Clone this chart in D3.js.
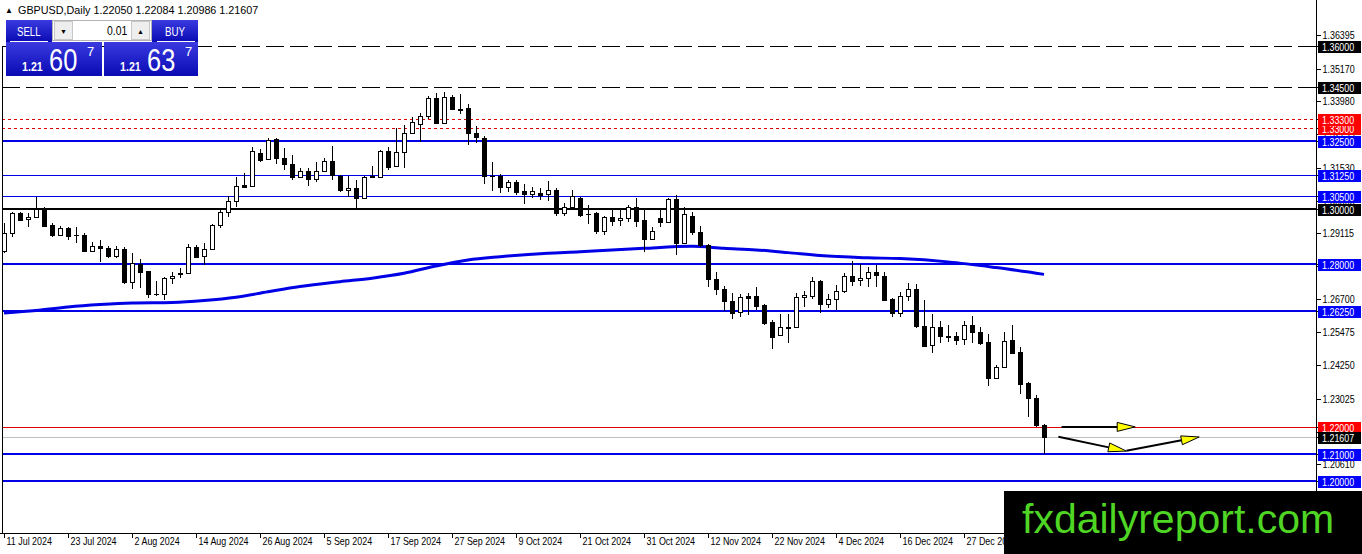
<!DOCTYPE html>
<html>
<head>
<meta charset="utf-8">
<script src="https://cdn.jsdelivr.net/npm/d3@7"></script>
<style>
body { margin: 0; background: #fff; overflow: hidden; }
text { font-family: "Liberation Sans", Arial, sans-serif; }
</style>
</head>
<body>
<script>
// GBPUSD daily candles, [open, high, low, close]
var candles = [
    [1.2843,1.2948,1.2839,1.2911],[1.2911,1.2991,1.2899,1.2985],[1.2985,1.2991,1.2956,1.2960],[1.2964,1.2985,1.2935,1.2971],
    [1.2970,1.3044,1.2968,1.3000],[1.3000,1.3009,1.2935,1.2939],[1.2942,1.2948,1.2899,1.2907],[1.2907,1.2939,1.2905,1.2932],
    [1.2932,1.2935,1.2887,1.2902],[1.2905,1.2935,1.2874,1.2904],[1.2905,1.2911,1.2845,1.2846],[1.2846,1.2878,1.2845,1.2866],
    [1.2864,1.2887,1.2804,1.2856],[1.2858,1.2864,1.2819,1.2829],[1.2829,1.2864,1.2819,1.2853],[1.2853,1.2862,1.2724,1.2731],
    [1.2733,1.2838,1.2706,1.2803],[1.2798,1.2817,1.2709,1.2770],[1.2772,1.2774,1.2672,1.2687],[1.2687,1.2736,1.2682,1.2688],
    [1.2687,1.2750,1.2665,1.2746],[1.2746,1.2767,1.2724,1.2754],[1.2762,1.2783,1.2746,1.2764],[1.2764,1.2871,1.2762,1.2860],
    [1.2860,1.2868,1.2819,1.2825],[1.2825,1.2875,1.2794,1.2852],[1.2852,1.2945,1.2850,1.2942],[1.2940,1.2997,1.2929,1.2988],
    [1.2988,1.3048,1.2972,1.3030],[1.3030,1.3117,1.3009,1.3085],[1.3088,1.3132,1.3077,1.3082],[1.3084,1.3227,1.3082,1.3214],
    [1.3205,1.3221,1.3174,1.3181],[1.3183,1.3263,1.3181,1.3254],[1.3257,1.3261,1.3165,1.3187],[1.3187,1.3224,1.3144,1.3165],
    [1.3165,1.3199,1.3107,1.3119],[1.3119,1.3150,1.3116,1.3141],[1.3141,1.3150,1.3086,1.3111],[1.3111,1.3174,1.3098,1.3141],
    [1.3141,1.3187,1.3137,1.3177],[1.3177,1.3233,1.3107,1.3125],[1.3123,1.3125,1.3064,1.3070],[1.3070,1.3122,1.3046,1.3078],
    [1.3076,1.3107,1.3003,1.3040],[1.3040,1.3122,1.3036,1.3119],[1.3119,1.3159,1.3115,1.3121],[1.3119,1.3218,1.3117,1.3214],
    [1.3214,1.3230,1.3144,1.3156],[1.3158,1.3299,1.3154,1.3209],[1.3209,1.3309,1.3150,1.3279],[1.3279,1.3340,1.3276,1.3319],
    [1.3312,1.3355,1.3246,1.3342],[1.3342,1.3416,1.3330,1.3408],[1.3408,1.3426,1.3313,1.3316],[1.3316,1.3432,1.3313,1.3411],
    [1.3411,1.3420,1.3365,1.3368],[1.3370,1.3423,1.3350,1.3366],[1.3371,1.3387,1.3236,1.3279],[1.3279,1.3306,1.3242,1.3263],
    [1.3263,1.3269,1.3092,1.3122],[1.3122,1.3174,1.3068,1.3121],[1.3122,1.3129,1.3058,1.3080],[1.3080,1.3107,1.3062,1.3098],
    [1.3099,1.3107,1.3052,1.3063],[1.3066,1.3092,1.3018,1.3054],[1.3054,1.3080,1.3040,1.3066],[1.3060,1.3077,1.3034,1.3052],
    [1.3054,1.3103,1.3031,1.3070],[1.3070,1.3077,1.2975,1.2984],[1.2984,1.3021,1.2975,1.3007],[1.3007,1.3070,1.3003,1.3048],
    [1.3040,1.3046,1.2972,1.2978],[1.2981,1.3015,1.2945,1.2980],[1.2984,1.2990,1.2907,1.2917],[1.2917,1.2976,1.2905,1.2970],
    [1.2970,1.2997,1.2938,1.2957],[1.2957,1.3000,1.2938,1.2966],[1.2966,1.3015,1.2954,1.3007],[1.3007,1.3040,1.2935,1.2957],
    [1.2960,1.3000,1.2843,1.2889],[1.2889,1.2935,1.2886,1.2920],[1.2966,1.3000,1.2933,1.2950],[1.2950,1.3040,1.2948,1.3036],
    [1.3036,1.3052,1.2831,1.2874],[1.2874,1.3007,1.2871,1.2982],[1.2975,1.2990,1.2905,1.2917],[1.2917,1.2937,1.2862,1.2868],
    [1.2868,1.2871,1.2715,1.2743],[1.2743,1.2767,1.2684,1.2705],[1.2705,1.2718,1.2625,1.2662],[1.2662,1.2693,1.2595,1.2617],
    [1.2619,1.2687,1.2604,1.2676],[1.2682,1.2690,1.2610,1.2675],[1.2681,1.2712,1.2629,1.2645],[1.2647,1.2651,1.2573,1.2580],
    [1.2586,1.2592,1.2484,1.2529],[1.2536,1.2613,1.2534,1.2565],[1.2565,1.2613,1.2506,1.2568],[1.2565,1.2693,1.2562,1.2676],
    [1.2676,1.2699,1.2641,1.2684],[1.2682,1.2749,1.2669,1.2736],[1.2736,1.2739,1.2617,1.2650],[1.2650,1.2687,1.2635,1.2668],
    [1.2668,1.2721,1.2629,1.2699],[1.2699,1.2766,1.2690,1.2754],[1.2754,1.2809,1.2718,1.2737],[1.2737,1.2797,1.2717,1.2746],
    [1.2746,1.2788,1.2713,1.2768],[1.2768,1.2795,1.2715,1.2758],[1.2755,1.2770,1.2663,1.2666],[1.2669,1.2672,1.2604,1.2617],
    [1.2617,1.2696,1.2604,1.2680],[1.2680,1.2727,1.2663,1.2705],[1.2705,1.2725,1.2562,1.2570],[1.2570,1.2666,1.2494,1.2497],
    [1.2499,1.2614,1.2472,1.2565],[1.2565,1.2589,1.2509,1.2531],[1.2534,1.2574,1.2512,1.2532],[1.2534,1.2549,1.2500,1.2521],
    [1.2521,1.2589,1.2500,1.2574],[1.2574,1.2607,1.2506,1.2547],[1.2549,1.2567,1.2500,1.2508],[1.2510,1.2540,1.2351,1.2378],
    [1.2378,1.2427,1.2374,1.2418],[1.2418,1.2549,1.2414,1.2515],[1.2519,1.2574,1.2470,1.2473],[1.2475,1.2492,1.2320,1.2359],
    [1.2359,1.2365,1.2237,1.2304],[1.2304,1.2316,1.2200,1.2203],[1.22050,1.22084,1.20986,1.21607]
];

// moving average, read at a few bars
var maBars   = [0, 4, 8, 12, 16, 21, 25, 29, 33, 37, 42, 46, 50, 54, 58, 62, 68, 72, 76, 80, 86, 90, 94, 98, 102, 108, 112, 118, 124, 130];
var maValues = [1.2618, 1.2627, 1.2640, 1.2649, 1.2655, 1.2657, 1.2664, 1.2676, 1.2696, 1.2715, 1.2733, 1.2746, 1.2764, 1.2791, 1.2813,
                1.2825, 1.2838, 1.2843, 1.2850, 1.2856, 1.2863, 1.2856, 1.2850, 1.2840, 1.2829, 1.2821, 1.2818, 1.2806, 1.2785, 1.2760];

// date axis
var dateBars   = [0, 8, 16, 24, 32, 40, 48, 56, 64, 72, 80, 88, 96, 104, 112, 120];
var dateLabels = ["11 Jul 2024", "23 Jul 2024", "2 Aug 2024", "14 Aug 2024", "26 Aug 2024", "5 Sep 2024", "17 Sep 2024", "27 Sep 2024",
                  "9 Oct 2024", "21 Oct 2024", "31 Oct 2024", "12 Nov 2024", "22 Nov 2024", "4 Dec 2024", "16 Dec 2024", "27 Dec 2024"];

// price axis
var priceTicks = [1.36395, 1.35170, 1.33980, 1.32755, 1.31530, 1.30305, 1.29115, 1.27890, 1.26700, 1.25475, 1.24250, 1.23025, 1.21800, 1.20610];

// horizontal levels
var dashedLevels = [1.36, 1.345];
var dottedLevels = [1.33, 1.333];
var blueThick = [1.325, 1.28, 1.2625, 1.21, 1.20];
var blueThin  = [1.3125, 1.305];
var blackLevel = 1.30;
var redLevel = 1.22;
var bidPrice = 1.21607;

// arrows drawn on the chart, [[bar, price], [bar, price]]
var arrows = [
    [[132.2, 1.2199], [141.4, 1.2199]],
    [[131.8, 1.2163], [140.3, 1.2110]],
    [[140.3, 1.2111], [149.4, 1.2162]]
];

window.onload = drawChart();

//squeeze text horizontally, the terminal font is narrower than Arial
function squeeze(sel, f){
    sel.each(function(){
        var w = this.getComputedTextLength();
        d3.select(this).attr("textLength", w * f).attr("lengthAdjust", "spacingAndGlyphs");
    });
}

function drawChart(){
    var width = 1362,
        height = 554,
        plotRight = 1316,
        plotBottom = 533;

    var svg = d3.select("body")
        .append("svg")
        .attr("width", width)
        .attr("height", height);

    var x = d3.scaleLinear().domain([0, 130]).range([4, 1044]);
    var y = d3.scaleLinear().domain([1.20, 1.36]).range([481, 46]);

    var defs = svg.append("defs");
    defs.append("clipPath").attr("id", "plot")
        .append("rect").attr("x", 2).attr("y", 0).attr("width", plotRight - 2).attr("height", plotBottom);
    var grad = defs.append("linearGradient").attr("id", "btn").attr("x1", 0).attr("y1", 0).attr("x2", 0).attr("y2", 1);
    grad.append("stop").attr("offset", "0%").attr("stop-color", "#3a3ae0");
    grad.append("stop").attr("offset", "100%").attr("stop-color", "#0a0ab4");

    var plot = svg.append("g").attr("clip-path", "url(#plot)");

    //horizontal levels
    function hline(p, color, w, dash){
        var yy = Math.round(y(p)) + (w % 2 ? 0.5 : 0);
        plot.append("line")
            .attr("x1", 2).attr("x2", plotRight)
            .attr("y1", yy).attr("y2", yy)
            .attr("stroke", color)
            .attr("stroke-width", w)
            .attr("stroke-dasharray", dash || null)
            .attr("shape-rendering", "crispEdges");
    }
    dashedLevels.forEach(function(p){ hline(p, "#000", 1, "18,6"); });
    dottedLevels.forEach(function(p){ hline(p, "#e00000", 1, "3,3"); });
    blueThin.forEach(function(p){ hline(p, "#0000e6", 1); });
    blueThick.forEach(function(p){ hline(p, "#0000e6", 2); });
    hline(blackLevel, "#000", 2);
    hline(redLevel, "#e00000", 1);
    hline(bidPrice, "#c0c0c0", 1);

    //moving average
    var ma = maBars.map(function(b, i){ return [b, maValues[i]]; });
    plot.append("path")
        .datum(ma)
        .attr("fill", "none")
        .attr("stroke", "#0000e6")
        .attr("stroke-width", 3)
        .attr("d", d3.line()
            .x(function(d){ return x(d[0]); })
            .y(function(d){ return y(d[1]); })
            .curve(d3.curveMonotoneX));

    //candles
    var bars = plot.append("g").attr("shape-rendering", "crispEdges");
    bars.selectAll(".wick")
        .data(candles)
        .enter()
        .append("line")
        .attr("class", "wick")
        .attr("x1", function(d, i){ return Math.round(x(i)) + 0.5; })
        .attr("x2", function(d, i){ return Math.round(x(i)) + 0.5; })
        .attr("y1", function(d){ return y(d[1]); })
        .attr("y2", function(d){ return y(d[2]); })
        .attr("stroke", "#000");
    bars.selectAll(".body")
        .data(candles)
        .enter()
        .append("rect")
        .attr("class", "body")
        .attr("x", function(d, i){ return Math.round(x(i)) - 1.5; })
        .attr("width", 4)
        .attr("y", function(d){ return Math.round(y(Math.max(d[0], d[3]))) + 0.5; })
        .attr("height", function(d){ return Math.max(0.01, Math.round(Math.abs(y(d[0]) - y(d[3])))); })
        .attr("fill", function(d){ return d[3] > d[0] ? "#fff" : "#000"; })
        .attr("stroke", "#000");

    //arrows
    arrows.forEach(function(a){
        var x0 = x(a[0][0]), y0 = y(a[0][1]), x1 = x(a[1][0]), y1 = y(a[1][1]);
        var ang = Math.atan2(y1 - y0, x1 - x0), len = 18, half = 4.5;
        var bx = x1 - len * Math.cos(ang), by = y1 - len * Math.sin(ang);
        plot.append("line")
            .attr("x1", x0).attr("y1", y0).attr("x2", bx).attr("y2", by)
            .attr("stroke", "#000").attr("stroke-width", 2);
        var pts = [[x1, y1],
                   [bx + half * Math.sin(ang), by - half * Math.cos(ang)],
                   [bx - half * Math.sin(ang), by + half * Math.cos(ang)]];
        plot.append("polygon")
            .attr("points", pts.map(function(p){ return p.join(","); }).join(" "))
            .attr("fill", "#ffff00")
            .attr("stroke", "#000")
            .attr("stroke-width", 1);
    });

    //frame
    svg.append("line").attr("x1", 2.5).attr("x2", 2.5).attr("y1", 46).attr("y2", plotBottom)
        .attr("stroke", "#000").attr("shape-rendering", "crispEdges");
    svg.append("line").attr("x1", plotRight + 0.5).attr("x2", plotRight + 0.5).attr("y1", 0).attr("y2", plotBottom)
        .attr("stroke", "#000").attr("shape-rendering", "crispEdges");
    svg.append("line").attr("x1", 0).attr("x2", plotRight).attr("y1", plotBottom + 0.5).attr("y2", plotBottom + 0.5)
        .attr("stroke", "#000").attr("shape-rendering", "crispEdges");

    //price axis
    var yAxis = svg.append("g")
        .attr("transform", "translate(" + (plotRight + 0.5) + ",0)")
        .call(d3.axisRight(y)
            .tickValues(priceTicks)
            .tickFormat(d3.format(".5f"))
            .tickSize(4)
            .tickPadding(2));
    yAxis.select(".domain").remove();
    yAxis.selectAll("text").attr("font-size", 11).attr("font-family", null).attr("fill", "#000");
    yAxis.selectAll("line").attr("stroke", "#000").attr("shape-rendering", "crispEdges");
    squeeze(yAxis.selectAll("text"), 0.81);

    //level labels on the price axis
    function tag(p, bg){
        var yy = y(p);
        var g = svg.append("g");
        g.append("line").attr("x1", plotRight).attr("x2", plotRight + 4)
            .attr("y1", Math.round(yy) + 0.5).attr("y2", Math.round(yy) + 0.5)
            .attr("stroke", "#000").attr("shape-rendering", "crispEdges");
        g.append("rect")
            .attr("x", plotRight + 2).attr("y", Math.round(yy) - 5)
            .attr("width", 43).attr("height", 12)
            .attr("fill", bg);
        var t = g.append("text")
            .attr("x", plotRight + 6).attr("y", Math.round(yy) + 5)
            .attr("font-size", 11).attr("fill", "#fff")
            .text(d3.format(".5f")(p));
        squeeze(t, 0.81);
    }
    dashedLevels.forEach(function(p){ tag(p, "#000"); });
    dottedLevels.forEach(function(p){ tag(p, "#ff0000"); });
    [1.325, 1.3125, 1.305].forEach(function(p){ tag(p, "#0000ff"); });
    tag(blackLevel, "#000");
    [1.28, 1.2625].forEach(function(p){ tag(p, "#0000ff"); });
    tag(redLevel, "#ff0000");
    tag(bidPrice, "#000");
    [1.21, 1.20].forEach(function(p){ tag(p, "#0000ff"); });

    //date axis
    var dateScale = d3.scaleOrdinal().domain(dateBars).range(dateLabels);
    var xAxis = svg.append("g")
        .attr("transform", "translate(0," + (plotBottom + 0.5) + ")")
        .call(d3.axisBottom(x)
            .tickValues(dateBars)
            .tickFormat(function(d){ return dateScale(d); })
            .tickSize(4)
            .tickPadding(1));
    xAxis.select(".domain").remove();
    xAxis.selectAll("line").attr("stroke", "#000").attr("shape-rendering", "crispEdges")
        .attr("transform", "translate(-0.5,0)");
    xAxis.selectAll("text")
        .attr("font-size", 11).attr("font-family", null).attr("fill", "#000")
        .attr("text-anchor", "start").attr("x", 2).attr("dy", "0.55em");
    squeeze(xAxis.selectAll("text"), 0.81);

    //symbol header
    svg.append("text").attr("x", 5).attr("y", 13).attr("font-size", 8).text("\u25B2");
    var head = svg.append("text").attr("x", 18).attr("y", 14).attr("font-size", 11)
        .text("GBPUSD,Daily  1.22050 1.22084 1.20986 1.21607");
    squeeze(head, 0.98);

    //one click trading panel
    var panel = svg.append("g");
    panel.append("rect").attr("x", 6).attr("y", 20).attr("width", 46).attr("height", 22).attr("fill", "url(#btn)");
    panel.append("rect").attr("x", 152).attr("y", 20).attr("width", 46).attr("height", 22).attr("fill", "url(#btn)");
    squeeze(panel.append("text").attr("x", 17).attr("y", 36).attr("font-size", 13)
        .attr("fill", "#fff").text("SELL"), 0.74);
    squeeze(panel.append("text").attr("x", 165).attr("y", 36).attr("font-size", 13)
        .attr("fill", "#fff").text("BUY"), 0.75);
    panel.append("rect").attr("x", 52.5).attr("y", 20.5).attr("width", 99).attr("height", 20)
        .attr("fill", "#fff").attr("stroke", "#b4b4b4");
    panel.append("rect").attr("x", 54.5).attr("y", 21.5).attr("width", 18).attr("height", 18)
        .attr("fill", "#eeeeee").attr("stroke", "#c8c8c8");
    panel.append("rect").attr("x", 131.5).attr("y", 21.5).attr("width", 18).attr("height", 18)
        .attr("fill", "#eeeeee").attr("stroke", "#c8c8c8");
    panel.append("text").attr("x", 63.5).attr("y", 34).attr("text-anchor", "middle").attr("font-size", 7).text("\u25BC");
    panel.append("text").attr("x", 140.5).attr("y", 34).attr("text-anchor", "middle").attr("font-size", 7).text("\u25B2");
    squeeze(panel.append("text").attr("x", 107).attr("y", 35).attr("font-size", 13).text("0.01"), 0.8);
    panel.append("line").attr("x1", 10).attr("x2", 48).attr("y1", 41.5).attr("y2", 41.5).attr("stroke", "#fff");
    panel.append("line").attr("x1", 157).attr("x2", 195).attr("y1", 41.5).attr("y2", 41.5).attr("stroke", "#fff");

    [[6, 96, "60"], [104, 94, "63"]].forEach(function(b){
        var bx = b[0];
        panel.append("rect").attr("x", bx).attr("y", 42).attr("width", b[1]).attr("height", 34).attr("fill", "url(#btn)");
        squeeze(panel.append("text").attr("x", bx + 16).attr("y", 71).attr("font-size", 13).attr("font-weight", "bold")
            .attr("fill", "#fff").text("1.21"), 0.82);
        squeeze(panel.append("text").attr("x", bx + 43).attr("y", 71).attr("font-size", 31)
            .attr("fill", "#fff").text(b[2]), 0.82);
        panel.append("text").attr("x", bx + 81).attr("y", 56).attr("font-size", 13)
            .attr("fill", "#fff").text("7");
    });

    //watermark
    svg.append("rect").attr("x", 1004).attr("y", 491).attr("width", 358).attr("height", 63).attr("fill", "#000");
    svg.append("text").attr("x", 1022).attr("y", 533)
        .attr("font-size", 41).attr("fill", "#4fd624")
        .text("fxdailyreport.com");
};
</script>
</body>
</html>
